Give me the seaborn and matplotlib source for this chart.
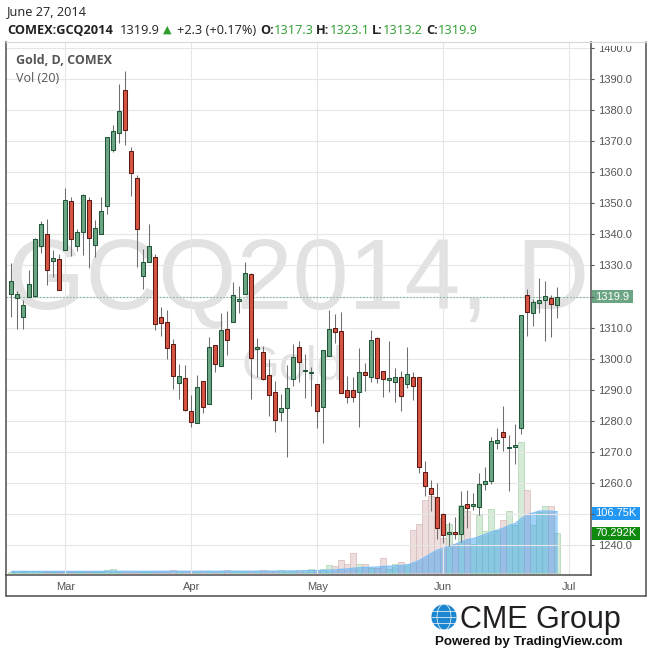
import numpy as np
import pandas as pd
import matplotlib
matplotlib.use("Agg")
import matplotlib.pyplot as plt
import seaborn as sns
from matplotlib.patches import Rectangle, Circle, Ellipse
from matplotlib.lines import Line2D
from matplotlib.transforms import Bbox, TransformedBbox

# ---------------- data ----------------
opens = [1320.7, 1319.4, 1313.3, 1320.0, 1320.3, 1336.2, 1340.0, 1331.4, 1332.0, 1334.9,
         1350.6, 1336.2, 1340.9, 1351.2, 1336.5, 1340.2, 1349.0, 1367.0, 1372.5, 1386.3,
         1366.7, 1358.0, 1326.5, 1331.0, 1332.6, 1313.3, 1311.7, 1304.7, 1292.3, 1293.7,
         1283.1, 1279.5, 1292.8, 1285.4, 1304.5, 1297.6, 1309.5, 1311.7, 1318.5, 1320.7,
         1327.2, 1303.3, 1302.1, 1294.7, 1289.2, 1283.0, 1284.3, 1293.6, 1303.7, 1296.2,
         1295.4, 1291.8, 1284.4, 1300.8, 1309.8, 1308.8, 1289.9, 1289.9, 1289.2, 1295.7,
         1294.0, 1306.6, 1296.0, 1293.1, 1292.4, 1294.0, 1291.8, 1294.0, 1294.0, 1263.5,
         1258.4, 1255.5, 1250.0, 1243.8, 1244.2, 1243.6, 1253.2, 1252.6, 1252.3, 1259.6,
         1260.6, 1272.8, 1276.4, 1271.3, 1271.5, 1277.7, 1320.4, 1314.6, 1317.8, 1318.8,
         1319.5, 1317.3]
highs = [1330.7, 1321.8, 1318.9, 1328.5, 1338.7, 1344.3, 1344.9, 1335.0, 1333.7, 1354.9,
         1352.1, 1341.7, 1352.9, 1352.0, 1344.6, 1352.0, 1371.2, 1375.1, 1388.4, 1392.4,
         1368.0, 1359.0, 1335.2, 1343.2, 1333.6, 1316.6, 1315.7, 1306.3, 1298.3, 1297.9,
         1288.4, 1294.8, 1292.8, 1307.0, 1304.5, 1314.7, 1315.4, 1324.6, 1323.4, 1331.0,
         1327.5, 1306.6, 1304.1, 1299.9, 1293.0, 1288.7, 1298.0, 1304.8, 1305.7, 1301.4,
         1297.3, 1291.8, 1302.7, 1315.7, 1314.4, 1315.0, 1294.5, 1294.0, 1303.4, 1298.6,
         1309.2, 1306.9, 1296.0, 1305.6, 1297.0, 1296.0, 1303.7, 1295.6, 1294.3, 1267.0,
         1260.9, 1260.0, 1250.3, 1247.4, 1249.0, 1257.4, 1257.7, 1256.8, 1263.2, 1265.1,
         1274.8, 1277.7, 1284.7, 1275.5, 1279.0, 1314.0, 1322.3, 1319.2, 1325.9, 1325.0,
         1320.5, 1323.1]
lows = [1313.3, 1309.5, 1309.5, 1320.0, 1320.0, 1333.9, 1323.6, 1326.4, 1322.0, 1334.9,
        1333.2, 1334.6, 1333.3, 1329.1, 1332.8, 1340.2, 1346.5, 1366.4, 1369.3, 1368.6,
        1352.3, 1329.4, 1322.3, 1331.0, 1309.2, 1307.2, 1299.8, 1290.4, 1287.0, 1283.3,
        1278.0, 1279.5, 1282.7, 1285.4, 1295.9, 1297.6, 1301.3, 1311.7, 1314.8, 1320.7,
        1287.2, 1294.2, 1293.2, 1281.7, 1276.6, 1280.1, 1268.3, 1291.4, 1292.4, 1287.5,
        1284.9, 1277.8, 1272.8, 1300.8, 1305.0, 1288.9, 1285.7, 1286.0, 1278.0, 1289.5,
        1292.4, 1292.1, 1287.6, 1289.3, 1286.0, 1283.1, 1290.5, 1286.6, 1263.2, 1255.8,
        1251.2, 1242.0, 1240.7, 1239.7, 1242.0, 1241.0, 1245.5, 1251.3, 1249.7, 1257.7,
        1259.6, 1270.9, 1270.3, 1257.6, 1266.3, 1275.9, 1307.2, 1310.4, 1314.6, 1305.6,
        1306.9, 1313.2]
closes = [1324.9, 1320.7, 1317.2, 1324.0, 1338.4, 1343.2, 1328.5, 1332.3, 1322.0, 1351.0,
          1338.4, 1340.9, 1352.6, 1338.7, 1342.2, 1347.4, 1371.2, 1373.2, 1379.6, 1373.5,
          1359.6, 1341.6, 1331.0, 1336.2, 1311.1, 1311.4, 1303.4, 1294.6, 1294.4, 1283.6,
          1279.8, 1290.9, 1284.4, 1303.7, 1298.2, 1309.2, 1306.0, 1320.4, 1319.1, 1327.5,
          1300.2, 1303.5, 1293.6, 1288.3, 1280.4, 1284.1, 1290.5, 1300.5, 1298.9, 1296.4,
          1295.6, 1283.1, 1302.7, 1309.5, 1308.5, 1288.9, 1287.6, 1287.6, 1295.7, 1294.7,
          1305.9, 1293.7, 1293.4, 1293.7, 1294.3, 1287.9, 1295.0, 1291.3, 1265.1, 1259.0,
          1256.4, 1245.5, 1243.2, 1244.0, 1243.6, 1252.6, 1251.9, 1253.2, 1259.6, 1260.6,
          1273.5, 1273.8, 1274.8, 1271.5, 1272.3, 1314.0, 1315.2, 1318.2, 1318.8, 1320.1,
          1317.5, 1319.9]
# volume in thousands of contracts
volumes = [2.0, 2.5, 1.8, 3.0, 2.6, 2.2, 1.5, 1.2, 1.5, 1.4,
           1.6, 1.3, 1.5, 1.7, 1.5, 2.0, 4.7, 6.2, 1.8, 1.6,
           1.5, 1.4, 1.6, 1.8, 2.0, 2.2, 2.0, 4.5, 2.2, 2.5,
           2.1, 2.0, 2.3, 2.5, 2.1, 3.0, 4.5, 2.8, 2.5, 2.7,
           2.4, 3.8, 4.3, 2.5, 3.0, 5.5, 3.5, 3.2, 5.0, 4.0,
           7.0, 5.5, 6.0, 12.8, 11.0, 23.0, 14.6, 34.0, 16.0, 16.0,
           9.0, 9.0, 25.0, 6.4, 14.6, 18.7, 16.0, 74.0, 86.0, 128.0,
           134.0, 95.0, 60.0, 85.0, 50.0, 119.0, 108.0, 51.0, 101.0, 73.0,
           112.0, 73.0, 93.0, 108.0, 84.0, 228.0, 145.0, 83.0, 107.0, 117.0,
           117.0, 70.292]
vol_ma20 = [2.3, 2.3, 2.3, 2.3, 2.3, 2.3, 2.3, 2.3, 2.3, 2.3,
            2.3, 2.3, 2.3, 2.3, 2.3, 2.3, 2.4, 2.6, 2.6, 2.6,
            2.6, 2.5, 2.5, 2.5, 2.5, 2.5, 2.5, 2.6, 2.6, 2.6,
            2.6, 2.6, 2.6, 2.7, 2.7, 2.7, 2.8, 2.7, 2.6, 2.6,
            2.6, 2.7, 2.8, 2.8, 2.8, 3.0, 3.0, 3.1, 3.2, 3.3,
            3.6, 3.8, 4.0, 4.5, 5.0, 6.0, 6.6, 8.0, 8.6, 9.3,
            9.6, 9.9, 11.0, 11.2, 12.0, 12.8, 13.4, 17.2, 21.3, 27.5,
            34.0, 39.5, 42.5, 46.5, 49.5, 54.0, 58.0, 59.5, 63.5, 67.0,
            71.5, 74.5, 78.0, 83.0, 86.0, 95.0, 101.5, 104.5, 108.0, 108.0,
            107.5, 106.75]
month_names = ["Mar", "Apr", "May", "Jun", "Jul"]
price_ticks = [1240, 1250, 1260, 1270, 1280, 1290, 1300, 1310, 1320, 1330,
               1340, 1350, 1360, 1370, 1380, 1390, 1400]
hidden_tick_labels = [1250, 1320]   # covered by the value tags in the reference

# ---------------- trading calendar ----------------
cal = pd.bdate_range("2014-02-18", "2014-07-01")
cal = cal[~cal.isin(pd.to_datetime(["2014-04-18", "2014-05-26"]))]
n = len(closes)
idx = np.arange(n)
month_pos = [int(np.argmax(cal.month == m)) for m in [3, 4, 5, 6, 7]]

o = np.array(opens); h = np.array(highs); l = np.array(lows); c = np.array(closes)
up = c >= o

# ---------------- style ----------------
sns.set_style("white")
plt.rcParams["font.family"] = ["Liberation Sans", "DejaVu Sans"]

W, H = 650, 652
fig = plt.figure(figsize=(6.5, 6.52), dpi=100)
def fx(x): return x / W
def fy(y): return 1 - y / H

AX_L, AX_R, AX_T, AX_B = 6, 591, 42, 575
rect = [fx(AX_L), fy(AX_B), (AX_R - AX_L) / W, (AX_B - AX_T) / H]
axv = fig.add_axes(rect)
ax = fig.add_axes(rect, sharex=axv)
ax.set_zorder(axv.get_zorder() + 1)
ax.patch.set_visible(False)

GREEN_FILL, GREEN_EDGE = "#6ba583", "#225437"
RED_FILL, RED_EDGE = "#d75442", "#5b1a13"
WICK = "#6e6e6e"
TXT = "#555555"

# ---------------- volume (seaborn) ----------------
vdf = pd.DataFrame({"i": idx, "vol": volumes,
                    "dir": np.where(up, "up", "down")})
sns.barplot(data=vdf, x="i", y="vol", hue="dir",
            palette={"up": "#d6ebd7", "down": "#eddddd"},
            native_scale=True, dodge=False, width=1.0, errorbar=None,
            saturation=1, legend=False, linewidth=0.5, ax=axv)
for p in axv.patches:
    fc = p.get_facecolor()
    p.set_edgecolor("#a9d3ad" if fc[1] > fc[0] else "#d6b9b9")
axv.fill_between(idx, 0, vol_ma20, color="#2196f3", alpha=0.42, lw=0, zorder=3)
sns.lineplot(x=idx, y=vol_ma20, color="#7dbef5", lw=0.9, ax=axv, zorder=4)
axv.set_ylim(-4.0, 928.7)
axv.set_yticks([])
axv.set_xlabel(""); axv.set_ylabel("")
for s in axv.spines.values():
    s.set_visible(False)
axv.tick_params(left=False, labelleft=False, bottom=False, labelbottom=False)

# ---------------- candles ----------------
body_lo = np.minimum(o, c)
body_h = np.maximum(np.abs(c - o), 0.35)
ax.vlines(idx, l, h, color=WICK, lw=0.75, zorder=3)
ax.bar(idx, body_h, bottom=body_lo, width=0.64,
       color=np.where(up, GREEN_FILL, RED_FILL),
       edgecolor=np.where(up, GREEN_EDGE, RED_EDGE), linewidth=0.75, zorder=4)

ax.axhline(c[-1], color="#7fb896", lw=0.8, ls=(0, (1.5, 1.5)), zorder=2)

ax.set_xlim(-0.883, 96.62)
ax.set_ylim(1230.48, 1401.86)
ax.yaxis.tick_right()
ax.set_yticks(price_ticks)
ax.set_yticklabels(["" if v in hidden_tick_labels else f"{v:.1f}" for v in price_ticks])
ax.set_xticks(month_pos)
ax.set_xticklabels(month_names)
ax.tick_params(axis="y", direction="out", length=2.2, width=0.8, color=TXT,
               labelsize=8, labelcolor=TXT, pad=2.6, left=False, right=True)
ax.tick_params(axis="x", direction="out", length=2.2, width=0.8, color=TXT,
               labelsize=8, labelcolor=TXT, pad=3.0)
ax.grid(True, color="#e6e6e6", lw=0.8, zorder=0)
ax.set_axisbelow(True)
for side in ["left", "bottom", "right"]:
    ax.spines[side].set_color("#4d4d4d")
    ax.spines[side].set_linewidth(1.1)
ax.spines["top"].set_color("#d8d8d8")
ax.spines["top"].set_linewidth(0.8)

# clip tick labels at the top of the frame (the 1400.0 label is cut in the reference)
clipbox = TransformedBbox(Bbox([[0, 0], [1, fy(AX_T + 4)]]), fig.transFigure)
for lab in ax.get_yticklabels():
    lab.set_clip_box(clipbox)
    lab.set_clip_on(True)

# watermark
ax.text(fx(298), fy(309), "GCQ2014, D", transform=fig.transFigure, fontsize=72.5,
        color="#e2e2e2", ha="center", va="baseline", zorder=0,
        family=["Liberation Sans"])
ax.text(fx(293), fy(380), "Gold", transform=fig.transFigure, fontsize=35,
        color="#e2e2e2", ha="center", va="baseline", zorder=0,
        family=["Liberation Sans"])

# legend text
fig.text(fx(15.5), fy(60), "Gold, D, COMEX", fontsize=9, fontweight="bold",
         color=TXT, va="center", family=["Open Sans", "DejaVu Sans"])
fig.text(fx(15.5), fy(78), "Vol (20)", fontsize=9, color=TXT, va="center",
         family=["Open Sans", "DejaVu Sans"])

# outer frame
for (x0, y0, x1, y1, col, lw) in [
        (AX_L, AX_B, AX_L, 596, "#4d4d4d", 1.1),
        (AX_L, 596, 646, 596, "#4d4d4d", 1.1),
        (646, AX_T, 646, 596, "#4d4d4d", 1.1),
        (AX_R, AX_T, 646, AX_T, "#d8d8d8", 0.8)]:
    fig.add_artist(Line2D([fx(x0), fx(x1)], [fy(y0), fy(y1)], color=col, lw=lw))

# value labels on the right axis
def tag(y_center, x0, x1, text, col):
    fig.add_artist(Rectangle((fx(x0), fy(y_center + 6.5)), (x1 - x0) / W, 13 / H,
                             transform=fig.transFigure, color=col, lw=0))
    fig.text(fx(x0 + 3), fy(y_center), text, color="white", fontsize=8,
             va="center", ha="left")

tag(296.8, 592, 633, "1319.9", "#6ba583")
tag(513, 592, 640, "106.75K", "#2196f3")
tag(533.5, 592, 640, "70.292K", "#0f8a0f")

# header
HF = ["Open Sans", "DejaVu Sans"]
fig.text(fx(7), fy(12), "June 27, 2014", fontsize=9.2, color="#222222",
         va="center", family=HF)
hdr_green = "#2e9e2e"
pieces = [(7.5, "COMEX:GCQ2014", "bold", "#222222"),
          (120, "1319.9", "normal", "#222222"),
          (162.5, "\u25B2", "normal", hdr_green),
          (177, "+2.3 (+0.17%)", "normal", "#222222"),
          (260, "O:", "bold", "#222222"), (273.5, "1317.3", "normal", hdr_green),
          (316, "H:", "bold", "#222222"), (330, "1323.1", "normal", hdr_green),
          (372, "L:", "bold", "#222222"), (383, "1313.2", "normal", hdr_green),
          (426, "C:", "bold", "#222222"), (438, "1319.9", "normal", hdr_green)]
for x, t, wgt, col in pieces:
    fam = ["DejaVu Sans"] if t == "\u25B2" else HF
    fs = 8.0 if t == "\u25B2" else 9.2
    fig.text(fx(x), fy(30), t, fontsize=fs, fontweight=wgt, color=col,
             va="center", family=fam)

# CME Group logo
globe = Circle((fx(444), fy(617)), 13 / W, transform=fig.transFigure,
               color="#1c87d0", lw=0)
fig.add_artist(globe)
for wdt in [26, 14]:
    fig.add_artist(Ellipse((fx(444), fy(617)), wdt / W, 26 / H,
                           transform=fig.transFigure, fill=False,
                           edgecolor="white", lw=0.5))
for dy in [-6, 0, 6]:
    half = np.sqrt(max(13 ** 2 - dy ** 2, 0))
    fig.add_artist(Line2D([fx(444 - half), fx(444 + half)], [fy(617 + dy)] * 2,
                          color="white", lw=0.5))
fig.text(fx(460), fy(628), "CME Group", fontsize=22, color="#231f20",
         va="baseline", ha="left", family=["Liberation Sans"])
fig.text(fx(435), fy(642), "Powered by TradingView.com", fontsize=9.6,
         fontweight="bold", color="#111111", va="center", ha="left",
         family=["Liberation Sans"])

fig.savefig("out.png", dpi=100)
